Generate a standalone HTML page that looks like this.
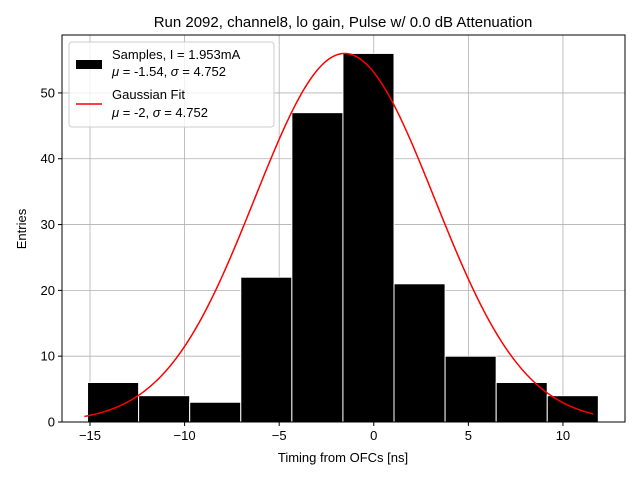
<!DOCTYPE html>
<html><head><meta charset="utf-8"><style>
body{margin:0;background:#fff;}
svg{font-family:"Liberation Sans","DejaVu Sans",sans-serif;}
</style></head><body>
<svg id="chart" width="640" height="480">
<rect width="640" height="480" fill="#fff"/>
<text x="343" y="27" font-size="15" text-anchor="middle">Run 2092, channel8, lo gain, Pulse w/ 0.0 dB Attenuation</text>
<g id="grid"></g><g id="bars"></g><g id="curve"></g><g id="axes"></g>
<rect x="62" y="35" width="563" height="387" fill="none" stroke="#000" stroke-width="1"/>
<text x="343" y="462" font-size="13" text-anchor="middle">Timing from OFCs [ns]</text>
<text x="26" y="229" font-size="13" text-anchor="middle" transform="rotate(-90 26 229)">Entries</text>
<g>
<rect x="69" y="42" width="205" height="85" rx="3" fill="#fff" fill-opacity="0.8" stroke="#ccc"/>
<rect x="76" y="60" width="26" height="9" fill="#000"/>
<text x="112" y="59" font-size="13">Samples, I = 1.953mA</text>
<text x="112" y="76" font-size="13"><tspan font-style="italic">μ</tspan> = -1.54, <tspan font-style="italic">σ</tspan> = 4.752</text>
<line x1="76" y1="104" x2="102" y2="104" stroke="red" stroke-width="1.5"/>
<text x="112" y="99" font-size="13">Gaussian Fit</text>
<text x="112" y="117" font-size="13"><tspan font-style="italic">μ</tspan> = -2, <tspan font-style="italic">σ</tspan> = 4.752</text>
</g>
</svg>
<script>
const binStart = -15.13;
const binWidth = 2.7;
const counts = [6,4,3,22,47,56,21,10,6,4];
const xTicks = [-15,-10,-5,0,5,10];
const yTicks = [0,10,20,30,40,50];
const fitMu = -1.54;
const fitSigma = 4.752;
const fitAmp = 56;
const fitRange = [-15.3, 11.6];
const NS="http://www.w3.org/2000/svg";
const X0=62,X1=625,Y0=422,Y1=35,xmin=-16.48,xmax=13.28,ymin=0,ymax=58.8;
const sx=v=>X0+(v-xmin)/(xmax-xmin)*(X1-X0);
const sy=v=>Y0-(v-ymin)/(ymax-ymin)*(Y0-Y1);
function mk(t,a,p){const e=document.createElementNS(NS,t);for(const k in a)e.setAttribute(k,a[k]);p.appendChild(e);return e;}
const grid=document.getElementById('grid'),axes=document.getElementById('axes');
xTicks.forEach(t=>{const x=sx(t);
 const g=mk('line',{x1:x,x2:x,y1:Y1,y2:Y0,stroke:'#b0b0b0','stroke-width':0.8},grid);
 
 
 mk('line',{x1:x,x2:x,y1:Y0,y2:Y0+4,stroke:'#000'},axes);
 const l=mk('text',{x:x,y:Y0+18,'font-size':13,'text-anchor':'middle'},axes);l.textContent=t<0?'−'+(-t):t;
 
 });
yTicks.forEach(t=>{const y=sy(t);
 const g=mk('line',{x1:X0,x2:X1,y1:y,y2:y,stroke:'#b0b0b0','stroke-width':0.8},grid);
 
 
 mk('line',{x1:X0-4,x2:X0,y1:y,y2:y,stroke:'#000'},axes);
 const l=mk('text',{x:X0-7,y:y+4.5,'font-size':13,'text-anchor':'end'},axes);l.textContent=t;
 
 });
const bars=document.getElementById('bars');
counts.forEach((c,i)=>{const a=binStart+i*binWidth,b=a+binWidth;
 const r=mk('rect',{x:sx(a),y:sy(c),width:sx(b)-sx(a),height:sy(0)-sy(c),fill:'#000',stroke:'#fff','stroke-width':1},bars);
 
 });
let d='';for(let i=0;i<=200;i++){const v=fitRange[0]+(fitRange[1]-fitRange[0])*i/200;
 const f=fitAmp*Math.exp(-0.5*Math.pow((v-fitMu)/fitSigma,2));d+=(i?'L':'M')+sx(v).toFixed(2)+','+sy(f).toFixed(2);}
const p=mk('path',{d:d,fill:'none',stroke:'red','stroke-width':1.5},document.getElementById('curve'));


</script>
</body></html>
